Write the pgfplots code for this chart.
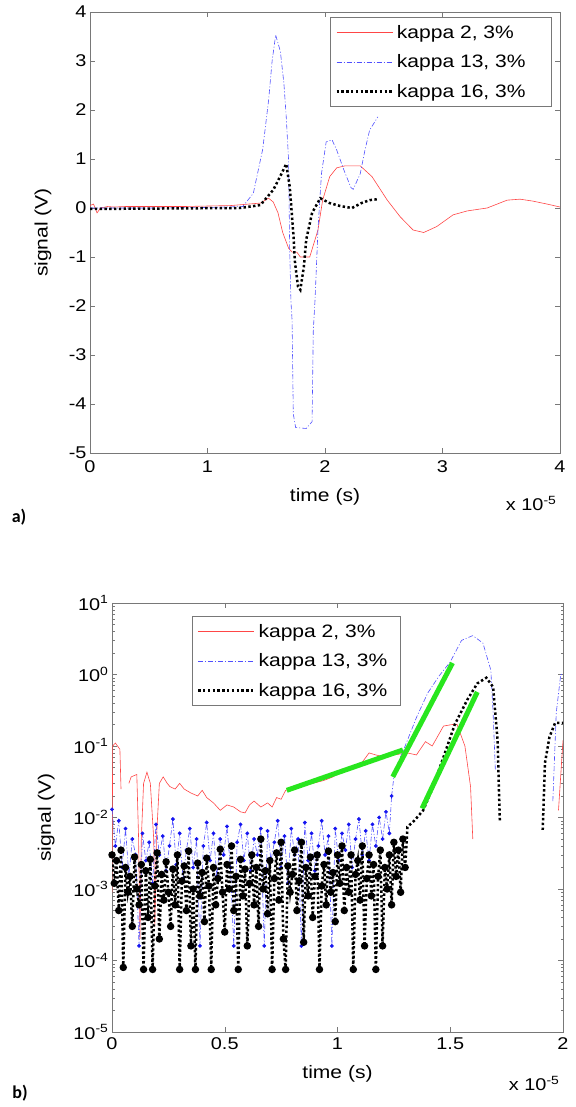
\documentclass[border=0pt]{standalone}
\usepackage{fontspec}
\setmainfont{Liberation Sans}
\newfontfamily\tagfont{Carlito}
\usepackage{graphicx}
\usepackage{pgfplots}
\pgfplotsset{compat=1.18}

% the source renders Arial a bit wider than normal
\newcommand\sx[1]{\scalebox{1.17}[1]{#1}}
\newcommand\legtxt[2]{\makebox[#1][l]{\sx{#2}}}

\definecolor{mred}{RGB}{255,70,70}
\definecolor{mblue}{RGB}{80,80,255}
\definecolor{dblue}{RGB}{20,20,240}
\definecolor{mgreen}{RGB}{40,230,30}
\definecolor{frame}{RGB}{120,120,120}

\pgfplotsset{
  mybox/.style={
    scale only axis,
    anchor=south west,
    clip mode=individual,
    axis line style={frame},
    every tick/.style={frame},
    major tick length=5pt,
    minor tick length=2.5pt,
    tick label style={font=\fontsize{17}{17}\selectfont},
    legend cell align=left,
    legend image code/.code={\draw[##1] (0pt,0pt) -- (56pt,0pt);},
    legend style={font=\fontsize{18}{20}\selectfont, draw=frame,
      inner xsep=5pt, inner ysep=5pt, row sep=9pt,
      nodes={inner sep=3pt}},
    unbounded coords=jump,
  },
  k2/.style={mred, line width=0.6pt},
  k13/.style={mblue, line width=0.6pt, dash pattern=on 5pt off 2pt on 1pt off 2pt},
  k16/.style={black, line width=2.5pt, dash pattern=on 2.4pt off 2.4pt},
}

\begin{document}
\begin{tikzpicture}[x=1pt,y=1pt]
\useasboundingbox (0,0) rectangle (575,1107);

% ---------------- a) linear signal
\begin{axis}[mybox,
  at={(90pt,654pt)}, width=470pt, height=441pt,
  xmin=0, xmax=4, ymin=-5, ymax=4,
  xtick={0,1,2,3,4}, xticklabels={\sx{0},\sx{1},\sx{2},\sx{3},\sx{4}},
  ytick={-5,-4,...,4},
  yticklabels={\sx{-5},\sx{-4},\sx{-3},\sx{-2},\sx{-1},\sx{0},\sx{1},\sx{2},\sx{3},\sx{4}},
  xticklabel style={yshift=-4pt},
  xlabel={\sx{time (s)}}, ylabel={\sx{signal (V)}},
  every axis x label/.style={at={(axis description cs:0.5,-0.1)}, anchor=center, font=\fontsize{18}{18}\selectfont},
  every axis y label/.style={at={(axis description cs:-0.1,0.5)}, anchor=center, rotate=90, font=\fontsize{18}{18}\selectfont},
  legend style={at={(axis description cs:0.511,0.989)}, anchor=north west},
]
\addplot[k2] table {
0 0.05
0.03 0.08
0.06 -0.1
0.09 0.0
0.15 0.03
0.2 0.02
0.3 0.03
0.5 0.03
0.8 0.03
1.0 0.04
1.2 0.05
1.3 0.07
1.4 0.09
1.45 0.1
1.52 0.2
1.56 0.12
1.6 -0.1
1.64 -0.5
1.69 -0.82
1.72 -0.9
1.76 -0.9
1.79 -1.0
1.87 -1.0
1.94 -0.45
1.98 0.16
2.04 0.64
2.10 0.82
2.17 0.86
2.30 0.86
2.40 0.64
2.53 0.16
2.64 -0.18
2.75 -0.45
2.84 -0.5
2.95 -0.38
3.09 -0.14
3.21 -0.06
3.38 0.0
3.55 0.16
3.66 0.18
3.77 0.14
3.89 0.08
4.0 0.02
};
\addlegendentry{\legtxt{146pt}{kappa 2, 3\%}}
\addplot[k13] table {
0 0.0
0.5 0.0
1.0 0.01
1.3 0.03
1.39 0.3
1.47 1.2
1.52 2.2
1.55 3.0
1.58 3.53
1.62 3.2
1.65 2.55
1.67 1.86
1.69 0.98
1.70 -0.92
1.71 -1.9
1.72 -2.3
1.73 -4.2
1.75 -4.48
1.84 -4.5
1.89 -4.36
1.90 -2.52
1.915 -1.88
1.94 -0.45
1.97 0.7
2.01 1.35
2.06 1.39
2.10 1.18
2.16 0.78
2.22 0.42
2.24 0.38
2.30 0.7
2.34 1.18
2.38 1.59
2.45 1.86
};
\addlegendentry{\legtxt{146pt}{kappa 13, 3\%}}
\addplot[k16] table {
0 -0.02
1.28 0
1.45 0.06
1.56 0.37
1.63 0.7
1.67 0.9
1.70 0.43
1.73 -0.51
1.745 -1.12
1.77 -1.6
1.79 -1.67
1.82 -1.2
1.84 -0.65
1.89 -0.1
1.96 0.2
2.04 0.1
2.13 0.04
2.23 0.0
2.31 0.1
2.38 0.16
2.45 0.18
};
\addlegendentry{\legtxt{146pt}{kappa 16, 3\%}}
\node[anchor=base east, font=\fontsize{17}{17}\selectfont] at (axis description cs:1.0,-0.13) {\sx{x 10\textsuperscript{-5}}};
\end{axis}

% ---------------- b) log signal
\begin{axis}[mybox,
  at={(112pt,75pt)}, width=451pt, height=429pt,
  xmin=0, xmax=2, ymode=log, log basis y=10, ymin=1e-5, ymax=10,
  xtick={0,0.5,1,1.5,2}, xticklabels={\sx{0},\sx{0.5},\sx{1},\sx{1.5},\sx{2}},
  yticklabel={\sx{10\textsuperscript{\pgfmathparse{int(round(\tick))}\pgfmathresult}}},
  xticklabel style={yshift=-2pt},
  xlabel={\sx{time (s)}}, ylabel={\sx{signal (V)}},
  every axis x label/.style={at={(axis description cs:0.5,-0.098)}, anchor=center, font=\fontsize{18}{18}\selectfont},
  every axis y label/.style={at={(axis description cs:-0.146,0.5)}, anchor=center, rotate=90, font=\fontsize{18}{18}\selectfont},
  legend style={at={(axis description cs:0.177,0.970)}, anchor=north west},
]
\addplot[k2] table {
0.000 0.0009
0.003 0.10
0.015 0.11
0.035 0.09
0.040 0.025
nan nan
0.075 0.03
0.085 0.037
0.11 0.04
0.118 0.005
0.124 0.0002
0.13 0.005
0.14 0.03
0.155 0.043
0.17 0.03
0.185 0.005
0.19 0.0003
0.197 0.005
0.21 0.03
0.227 0.037
0.245 0.03
0.257 0.027
0.28 0.025
0.30 0.03
0.32 0.025
0.35 0.022
0.38 0.02
0.40 0.024
0.42 0.019
0.45 0.016
0.48 0.0126
0.51 0.015
0.54 0.014
0.57 0.012
0.59 0.0116
0.61 0.015
0.63 0.017
0.66 0.014
0.69 0.016
0.71 0.014
0.73 0.019
0.75 0.018
0.77 0.024
0.80 0.026
0.85 0.028
0.89 0.03
0.94 0.033
0.98 0.037
1.02 0.045
1.06 0.05
1.10 0.054
1.14 0.08
1.17 0.075
1.21 0.07
1.25 0.075
1.31 0.08
1.35 0.075
1.39 0.115
1.42 0.10
1.47 0.19
1.51 0.2
1.53 0.2
1.565 0.1
1.59 0.027
1.60 0.005
nan nan
1.98 0.0126
2.0 0.12
};
\addlegendentry{\legtxt{134pt}{kappa 2, 3\%}}
\addplot[k13] table {
1.24 0.0200
1.25 0.037
1.27 0.06
1.30 0.10
1.35 0.25
1.40 0.55
1.45 0.95
1.50 1.5
1.55 3.0
1.60 3.5
1.645 2.75
1.68 1.15
1.69 0.29
1.70 0.046
nan nan
1.955 0.017
1.97 0.29
1.99 1.0
2.0 1.0
};
\addlegendentry{\legtxt{134pt}{kappa 13, 3\%}}
\addplot[k16] table {
1.30 0.0020
1.31 0.0074
1.34 0.009
1.38 0.0126
1.42 0.025
1.47 0.07
1.52 0.2
1.575 0.44
1.62 0.75
1.66 0.9
1.69 0.67
1.71 0.12
1.72 0.0085
nan nan
1.91 0.0067
1.92 0.058
1.94 0.134
1.965 0.21
2.0 0.21
};
\addlegendentry{\legtxt{134pt}{kappa 16, 3\%}}
% noise floor, kappa 13 (values in mV)
\addplot[k13, forget plot, mark=*, mark size=1.6pt, mark options={solid, fill=dblue, draw=dblue}]
  table[y expr=\thisrowno{1}*0.001] {
0.000 13
0.015 4
0.030 9
0.045 2
0.060 7
0.075 1.5
0.090 5
0.105 3
0.120 0.16
0.135 6
0.150 2.5
0.165 4.5
0.180 1.2
0.195 8
0.210 3
0.225 5.5
0.240 1.8
0.255 4
0.270 9.5
0.285 2.2
0.300 6
0.315 1.4
0.330 3.5
0.345 7
0.360 2
0.375 5
0.390 0.16
0.405 4
0.420 8.5
0.435 2.5
0.450 6
0.465 1.5
0.480 5
0.495 3
0.510 7.5
0.525 2
0.540 0.16
0.555 4.5
0.570 8
0.585 2.5
0.600 6
0.615 1.8
0.630 5
0.645 3
0.660 7
0.675 0.16
0.690 6.5
0.705 2.5
0.720 4.5
0.735 9
0.750 2
0.765 5.5
0.780 1.2
0.795 7
0.810 3
0.825 5
0.840 0.16
0.855 8.5
0.870 2.5
0.885 6
0.900 1.8
0.915 4
0.930 9
0.945 3
0.960 5.5
0.975 0.16
0.990 7
1.005 2.5
1.020 6
1.035 3.5
1.050 8
1.065 2
1.080 5
1.095 9.5
1.110 3
1.125 6.5
1.140 2.5
1.155 8
1.170 4
1.185 10
1.200 5
1.215 12
1.230 6
1.240 20
};
% noise floor, kappa 16 (values in mV)
\addplot[k16, forget plot, mark=*, mark size=2.4pt, mark options={solid, fill=black}]
  table[y expr=\thisrowno{1}*0.001] {
0.00 3.0
0.01 1.2
0.02 2.5
0.03 0.5
0.04 3.5
0.05 0.08
0.06 2.0
0.07 0.9
0.08 1.5
0.09 0.3
0.10 2.8
0.11 1.0
0.12 0.6
0.13 2.2
0.14 0.075
0.15 1.8
0.16 0.4
0.17 2.6
0.18 0.075
0.19 1.1
0.20 3.2
0.21 0.2
0.22 1.6
0.23 0.7
0.24 2.4
0.25 0.9
0.26 0.3
0.27 1.9
0.28 0.6
0.29 3.0
0.30 0.075
0.31 1.3
0.32 2.1
0.33 0.5
0.34 3.4
0.35 0.16
0.36 1.0
0.37 0.075
0.38 2.3
0.39 0.8
0.40 1.7
0.41 0.35
0.42 2.7
0.43 1.1
0.44 0.075
0.45 2.0
0.46 0.6
0.47 1.4
0.48 3.6
0.49 0.9
0.50 0.25
0.51 2.2
0.52 1.0
0.53 4.0
0.54 0.5
0.55 1.5
0.56 0.075
0.57 2.6
0.58 0.8
0.59 1.9
0.60 0.16
0.61 1.2
0.62 3.0
0.63 0.6
0.64 2.0
0.65 0.3
0.66 5.0
0.67 1.0
0.68 1.8
0.69 0.45
0.70 2.5
0.71 0.075
0.72 1.4
0.73 3.2
0.74 0.7
0.75 4.5
0.76 0.2
0.77 0.075
0.78 2.1
0.79 0.9
0.80 1.6
0.81 3.5
0.82 0.5
0.83 1.3
0.84 4.5
0.85 0.18
0.86 2.0
0.87 0.8
0.88 2.8
0.89 0.4
0.90 1.5
0.91 3.0
0.92 0.075
0.93 1.1
0.94 2.2
0.95 0.6
0.96 3.4
0.97 0.9
0.98 1.7
0.99 0.35
1.00 3.0
1.01 1.2
1.02 4.0
1.03 0.5
1.04 2.0
1.05 0.9
1.06 3.0
1.07 0.075
1.08 1.6
1.09 2.5
1.10 0.7
1.11 4.0
1.12 0.16
1.13 1.4
1.14 3.0
1.15 0.8
1.16 2.2
1.17 0.075
1.18 1.5
1.19 3.5
1.20 0.16
1.21 2.0
1.22 1.0
1.23 3.0
1.24 0.6
1.25 4.5
1.26 1.5
1.27 3.5
1.28 0.9
1.29 5.0
1.30 2.0
};
% fitted slopes
\addplot[mgreen, line width=5pt, forget plot] coordinates {(0.775,0.024) (1.29,0.088)};
\addplot[mgreen, line width=5pt, forget plot] coordinates {(1.245,0.037) (1.51,1.45)};
\addplot[mgreen, line width=5pt, forget plot] coordinates {(1.375,0.0134) (1.62,0.57)};
\node[anchor=base east, font=\fontsize{17}{17}\selectfont] at (axis description cs:1.0,-0.137) {\sx{x 10\textsuperscript{-5}}};
\end{axis}

\node[font=\tagfont\bfseries\fontsize{18}{18}\selectfont] at (19,590) {a)};
\node[font=\tagfont\bfseries\fontsize{18}{18}\selectfont] at (20,14) {b)};
\end{tikzpicture}
\end{document}
